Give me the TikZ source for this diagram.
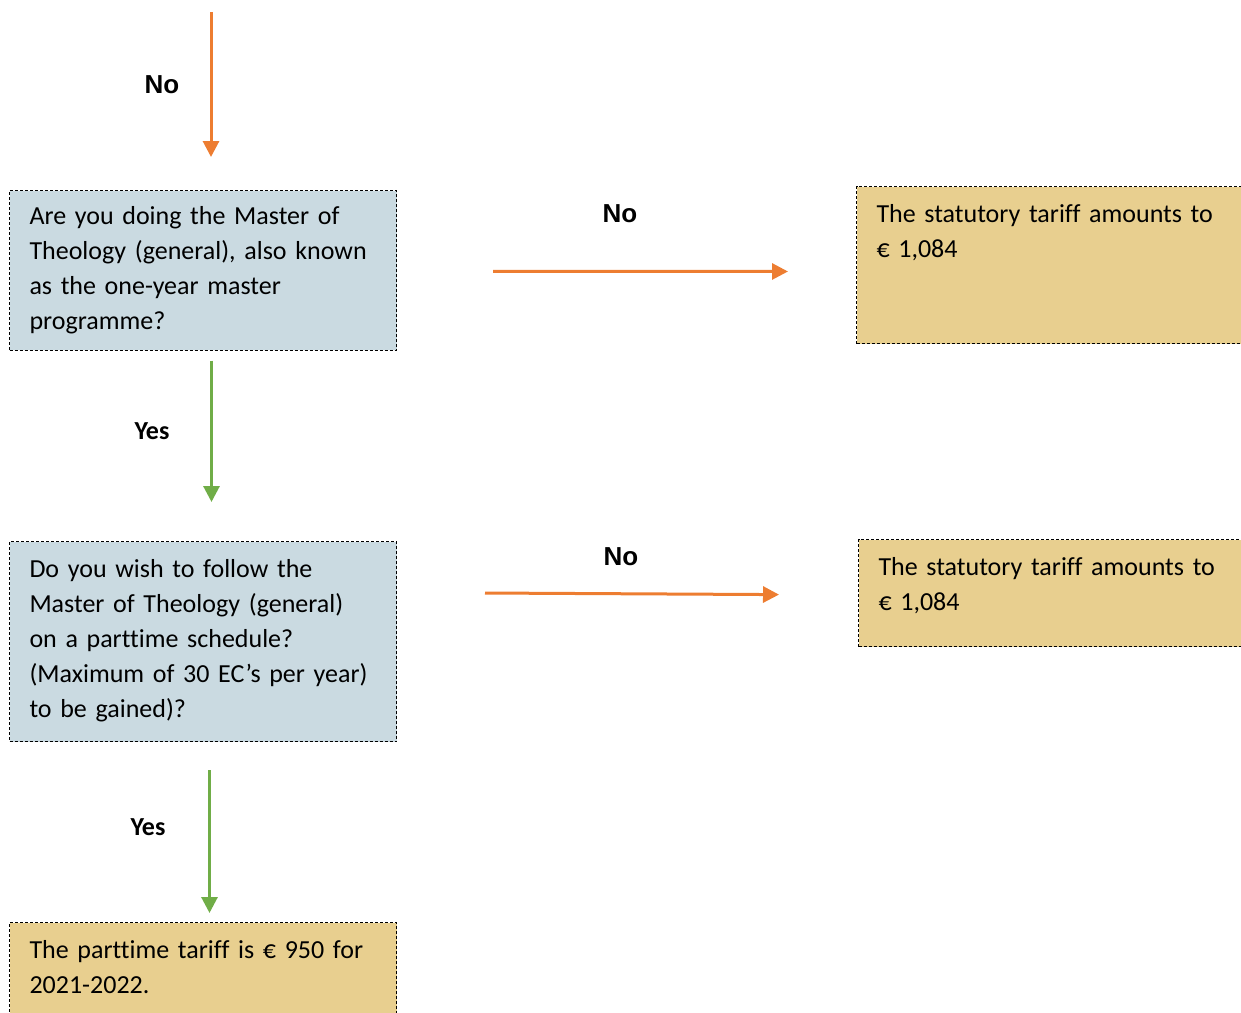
\documentclass[tikz,border=0pt]{standalone}
\usepackage{fontspec}
\setmainfont{Carlito}[Ligatures=NoCommon]
\newfontfamily\arialfont{Liberation Sans}
\usetikzlibrary{arrows.meta}
\definecolor{qblue}{HTML}{CADAE1}
\definecolor{ansbox}{HTML}{E8CF8F}
\definecolor{noorange}{HTML}{ED7D31}
\definecolor{yesgreen}{HTML}{70AD47}
% invisible strut that pushes a box downwards
\newcommand{\boxpad}[1]{\rule[-#1]{0pt}{#1}}
\begin{document}
\begin{tikzpicture}[x=.5pt,y=-.5pt,font=\fontsize{13}{17.5}\selectfont,
	qbox/.style={draw,dash pattern=on 1.5pt off 1pt,line width=.5pt,fill=qblue,anchor=north west,
		align=left,inner xsep=10pt,inner ysep=9pt,text width=173.5pt},
	abox/.style={qbox,fill=ansbox},
	wbox/.style={abox,text width=177pt},
	noarr/.style={draw=noorange,line width=1.5pt,-{Triangle[width=8pt,length=8pt]}},
	yesarr/.style={draw=yesgreen,line width=1.5pt,-{Triangle[width=8pt,length=8pt]}},
	nolbl/.style={font=\arialfont\bfseries\fontsize{13}{15}\selectfont},
	yeslbl/.style={font=\bfseries\fontsize{13}{15}\selectfont}]
	\useasboundingbox(0,0)rectangle(1241,1012);
	\coordinate(top)at(211,12);
	\node[qbox,inner ysep=8pt,yshift=-1pt](q1)at(9,188){Are you doing the Master of\\Theology (general), also known\\as the one-year master\\programme?};
	\node[qbox](q2)at(9,541){Do you wish to follow the\\Master of Theology (general)\\on a parttime schedule?\\(Maximum of 30 EC’s per year)\\to be gained)?\boxpad{3pt}};
	\node[abox](a3)at(9,922){The parttime tariff is € 950 for\\2021-2022.\boxpad{30pt}};
	\node[wbox](a1)at(856,186){The statutory tariff amounts to\\€ 1,084\boxpad{34pt}};
	\node[wbox](a2)at(858,539){The statutory tariff amounts to\\€ 1,084\boxpad{9pt}};
	% connectors
	\draw[noarr,shorten >=16.5pt](top)--(q1.north-|top);
	\draw[yesarr,shorten <=5pt,shorten >=19.5pt]([xshift=4.25pt]q1.south)--([xshift=4.25pt]q2.north);
	\draw[yesarr,shorten <=14pt,shorten >=4.5pt]([xshift=3.25pt]q2.south)--([xshift=3.25pt]a3.north);
	\draw[noarr,shorten <=48pt,shorten >=34pt]([yshift=-.5pt]q1.east)--([yshift=-3.25pt]a1.west);
	\draw[noarr,shorten <=44pt,shorten >=39.5pt]([yshift=24.5pt]q2.east)--([yshift=-1pt]a2.west);
	% labels
	\node[nolbl](n0)at(162,85){No};
	\node[yeslbl](y1)at(152,431){Yes};
	\node[yeslbl](y2)at(148,827){Yes};
	\node[nolbl](n1)at(620,214){No};
	\node[nolbl](n2)at(621,557){No};
\end{tikzpicture}
\end{document}
